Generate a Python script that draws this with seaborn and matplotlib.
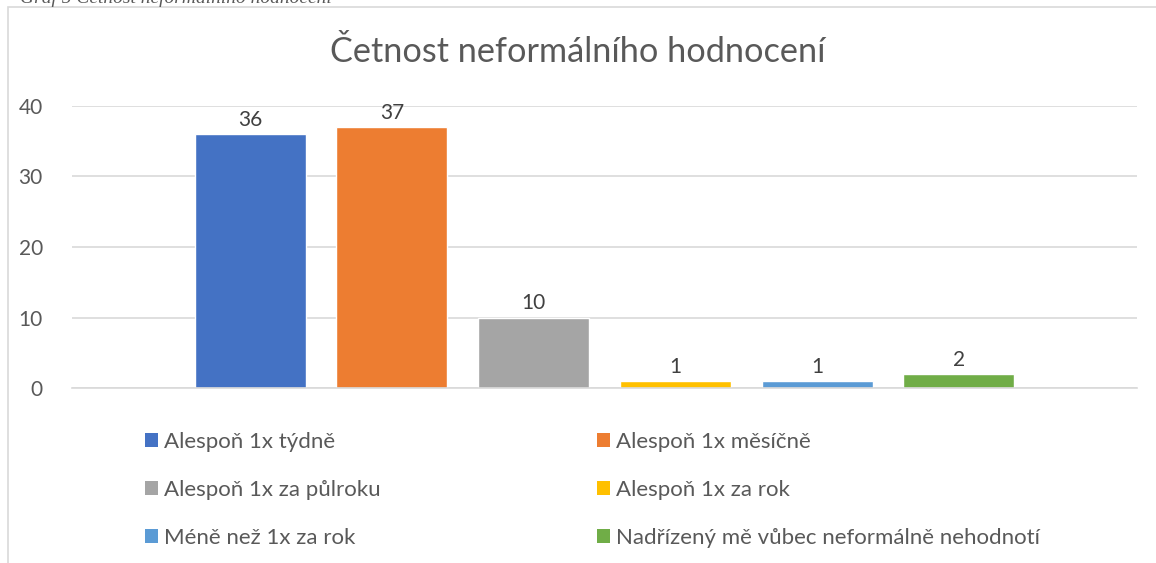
import matplotlib
matplotlib.use("Agg")
import matplotlib.pyplot as plt
from matplotlib.patches import Rectangle, Patch
import seaborn as sns
import pandas as pd

categories = ["Alespoň 1x týdně", "Alespoň 1x měsíčně", "Alespoň 1x za půlroku",
              "Alespoň 1x za rok", "Méně než 1x za rok", "Nadřízený mě vůbec neformálně nehodnotí"]
values = [36, 37, 10, 1, 1, 2]
colors = ["#4472C4", "#ED7D31", "#A5A5A5", "#FFC000", "#5B9BD5", "#70AD47"]
y_ticks = [0, 10, 20, 30, 40]
title = "Četnost neformálního hodnocení"
caption = "Graf 5 Četnost neformálního hodnocení"

sns.set_theme(style="white")
plt.rcParams['font.family'] = ['Lato', 'DejaVu Sans']

W, H = 1156, 563
fig = plt.figure(figsize=(W / 100, H / 100), dpi=100)
fig.patch.set_facecolor("white")

# chart frame
fig.patches.append(Rectangle((8 / W, -0.1), 1.2, 1 - 7 / H + 0.1, transform=fig.transFigure,
                             fill=False, edgecolor="#D9D9D9", linewidth=1.2))
fig.text(20 / W, 1 - 3 / H, caption, fontsize=14, style="italic", family="Liberation Serif",
         color="#595959", va="baseline", ha="left")

ax = fig.add_axes([72 / W, 175 / H, (1137 - 72) / W, (457 - 175) / H])
df = pd.DataFrame({"cat": categories, "val": values})
sns.barplot(data=df, x="cat", y="val", hue="cat", palette=colors, width=0.784,
            legend=False, ax=ax, order=categories, hue_order=categories, saturation=1)

ax.set_xlim(-1.257, 6.257)
ax.set_ylim(0, 40)
ax.set_yticks(y_ticks)
ax.set_yticklabels([str(t) for t in y_ticks], fontsize=15, color="#595959")
ax.tick_params(axis="y", length=0, pad=21)
ax.set_xticks([])
ax.set_xlabel("")
ax.set_ylabel("")
ax.yaxis.grid(True, color="#D9D9D9", linewidth=1.2)
ax.set_axisbelow(True)
for s in ["top", "right", "left"]:
    ax.spines[s].set_visible(False)
ax.spines["bottom"].set_color("#D9D9D9")
ax.spines["bottom"].set_linewidth(1.2)

for cont in ax.containers:
    ax.bar_label(cont, fontsize=15, color="#404040", padding=3)

fig.text(0.5, 1 - 52 / H, title, ha="center", va="center", fontsize=24.7, color="#595959")

# legend: two columns, filled row by row
handles = [Patch(facecolor=c, edgecolor="none") for c in colors]
for col, x0 in ((0, 145), (1, 597)):
    idx = [col, col + 2, col + 4]
    fig.legend([handles[i] for i in idx], [categories[i] for i in idx],
               loc="upper left", bbox_to_anchor=(x0 / W, 1 - 432 / H),
               ncol=1, frameon=False, fontsize=16, labelcolor="#595959",
               handlelength=0.6, handleheight=0.6, handletextpad=0.25,
               labelspacing=1.25, borderpad=0, borderaxespad=0)

fig.savefig("out.png", dpi=100, facecolor="white")
